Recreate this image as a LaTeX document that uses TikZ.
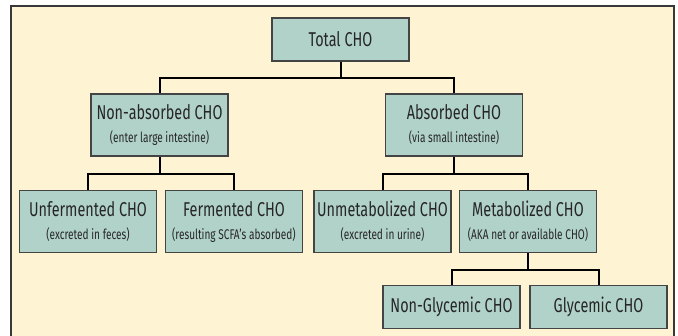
\documentclass[tikz,border=0pt]{standalone}
\usepackage{fontspec}
\newfontfamily\chofont[FakeStretch=0.72]{Fira Sans}
\definecolor{cream}{HTML}{FEF3D3}
\definecolor{boxfill}{HTML}{B1D2C8}
\definecolor{boxline}{HTML}{444444}
\definecolor{frameline}{HTML}{383838}
\newcommand\mainsz{\fontsize{20}{22}\selectfont}
\newcommand\subsz{\fontsize{14}{15}\selectfont}
\newcommand\twoline[2]{{\mainsz #1}\\[1pt]{\subsz #2}}
\begin{document}
\begin{tikzpicture}[x=1pt,y=-1pt,
  chobox/.style={draw=boxline, line width=1.3pt, fill=boxfill, minimum width=137pt,
    inner sep=0pt, align=center, font=\chofont\mainsz, text=black!85},
  tall/.style={chobox, minimum height=62pt},
  short/.style={chobox, minimum height=43pt},
  link/.style={draw=black, line width=2pt}]
\useasboundingbox (0,0) rectangle (678,335);
\begin{scope}
\clip (0,0) rectangle (678,335);
\draw[frameline, line width=2pt, fill=cream] (10.5,6) rectangle (674,345);
\end{scope}
\node[short] (total) at (340.5,39.5) {Total CHO};
\node[tall] (nonabs) at (159.5,125) {\twoline{Non-absorbed CHO}{(enter large intestine)}};
\node[tall] (abs) at (454,125) {\twoline{Absorbed CHO}{(via small intestine)}};
\node[tall] (unferm) at (88,221.5) {\twoline{Unfermented CHO}{(excreted in feces)}};
\node[tall] (ferm) at (234,221.5) {\twoline{Fermented CHO}{(resulting SCFA’s absorbed)}};
\node[tall] (unmet) at (382.5,221.5) {\twoline{Unmetabolized CHO}{(excreted in urine)}};
\node[tall] (met) at (528,221.5) {\twoline{Metabolized CHO}{(AKA net or available CHO)}};
\node[short] (nongly) at (451.5,307) {Non-Glycemic CHO};
\node[short] (gly) at (598.5,307) {Glycemic CHO};
\coordinate (j1) at (340.5,78);
\coordinate (j2) at (159.5,174);
\coordinate (j3) at (454,174);
\coordinate (j4) at (528,270);
\draw[link] (total.south) -- (j1);
\draw[link] (nonabs.north) |- (j1) -| (abs.north);
\draw[link] (nonabs.south) -- (j2);
\draw[link] (unferm.north) |- (j2) -| (ferm.north);
\draw[link] (abs.south) -- (j3);
\draw[link] (unmet.north) |- (j3) -| (met.north);
\draw[link] (met.south) -- (j4);
\draw[link] (nongly.north) |- (j4) -| (gly.north);
\end{tikzpicture}
\end{document}
